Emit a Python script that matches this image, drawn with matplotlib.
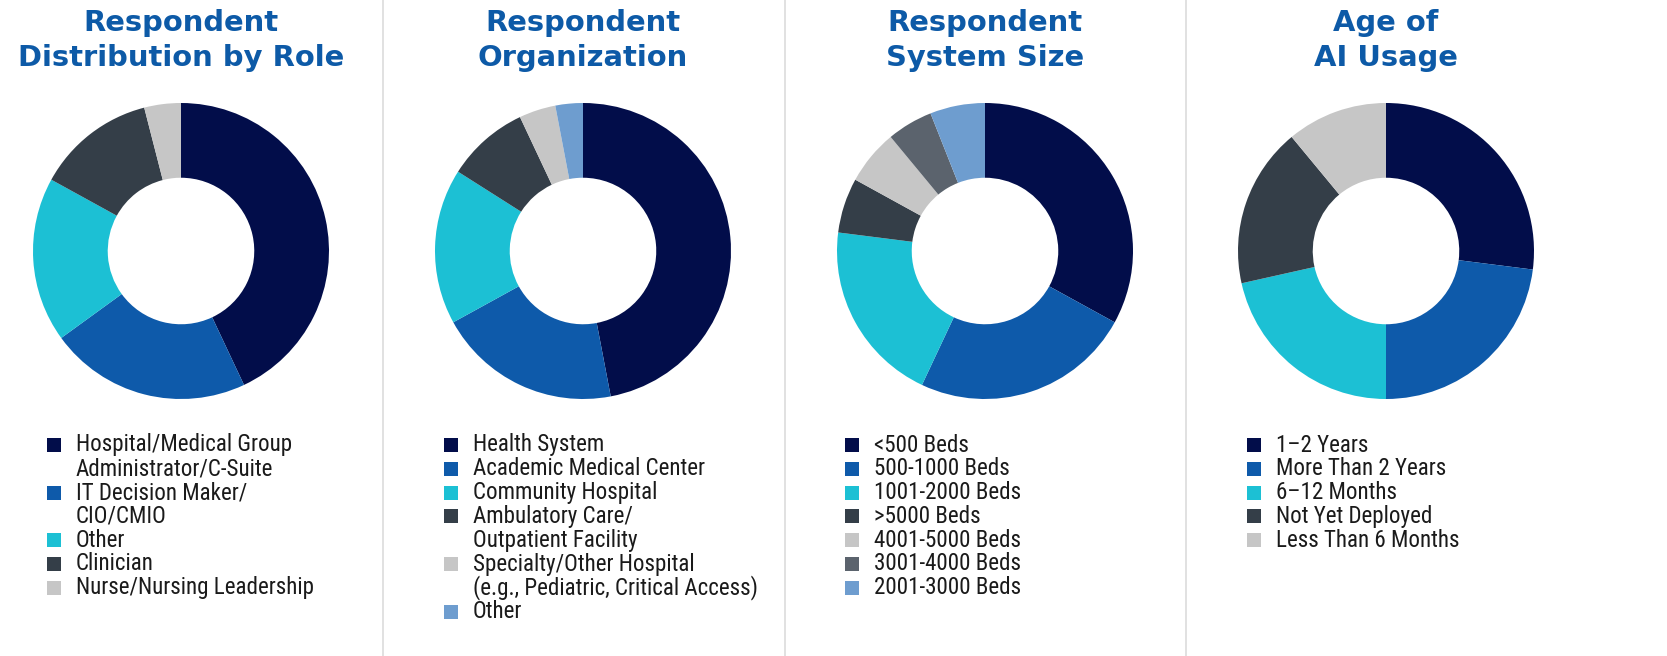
import matplotlib
matplotlib.use('Agg')
from matplotlib import pyplot as plt
from matplotlib import font_manager
from matplotlib.font_manager import FontProperties
from matplotlib.patches import Rectangle
from matplotlib.lines import Line2D

NAVY = '#020d4a'
BLUE = '#0e5aaa'
TEAL = '#1cc0d4'
DARK = '#343e48'
LGRAY = '#c6c6c6'
MGRAY = '#5b636d'
LBLUE = '#6e9dcf'

# panel 1
role_labels = ['Hospital/Medical Group\nAdministrator/C-Suite', 'IT Decision Maker/\nCIO/CMIO',
               'Other', 'Clinician', 'Nurse/Nursing Leadership']
role_values = [43, 22, 18, 13, 4]
role_colors = [NAVY, BLUE, TEAL, DARK, LGRAY]

# panel 2
org_labels = ['Health System', 'Academic Medical Center', 'Community Hospital',
              'Ambulatory Care/\nOutpatient Facility',
              'Specialty/Other Hospital\n(e.g., Pediatric, Critical Access)', 'Other']
org_values = [47, 20, 17, 9, 4, 3]
org_colors = [NAVY, BLUE, TEAL, DARK, LGRAY, LBLUE]

# panel 3
size_labels = ['<500 Beds', '500-1000 Beds', '1001-2000 Beds', '>5000 Beds',
               '4001-5000 Beds', '3001-4000 Beds', '2001-3000 Beds']
size_values = [33, 24, 20, 6, 6, 5, 6]
size_colors = [NAVY, BLUE, TEAL, DARK, LGRAY, MGRAY, LBLUE]

# panel 4
age_labels = ['1\u20132 Years', 'More Than 2 Years', '6\u201312 Months',
              'Not Yet Deployed', 'Less Than 6 Months']
age_values = [27, 23, 21.5, 17.5, 11]
age_colors = [NAVY, BLUE, TEAL, DARK, LGRAY]

titles = [['Respondent', 'Distribution by Role'], ['Respondent', 'Organization'],
          ['Respondent', 'System Size'], ['Age of', 'AI Usage']]

panels = [(role_labels, role_values, role_colors),
          (org_labels, org_values, org_colors),
          (size_labels, size_values, size_colors),
          (age_labels, age_values, age_colors)]


def pick_font(name, weights, fallback_name, fallback_weight):
    # static files only, variable fonts come out at their default weight
    for w in weights:
        for f in font_manager.fontManager.ttflist:
            if f.name == name and f.weight == w and f.style == 'normal' and '[' not in f.fname:
                return FontProperties(fname=f.fname)
    return FontProperties(family=fallback_name, weight=fallback_weight)


title_fp = pick_font('Montserrat', [700, 'bold'], 'DejaVu Sans', 'bold')
leg_fp = pick_font('Open Sans Condensed', [300, 'light'], 'Roboto Condensed', 'normal')
if leg_fp.get_family() == ['Roboto Condensed']:
    for f in font_manager.fontManager.ttflist:
        if f.fname.endswith('RobotoCondensed-Regular.ttf'):
            leg_fp = FontProperties(fname=f.fname)
            break

W, H = 1667, 656
fig = plt.figure(figsize=(W / 100, H / 100), dpi=100)
fig.patch.set_facecolor('white')
renderer = fig.canvas.get_renderer()


def fit_size(fp, text, target_px, base=20):
    t = fig.text(0, 0, text, fontproperties=fp, fontsize=base)
    w = t.get_window_extent(renderer).width
    t.remove()
    return base * target_px / w


title_size = fit_size(title_fp, 'Distribution by Role', 327)
leg_size = fit_size(leg_fp, 'Hospital/Medical Group', 216)

centers = [181, 583, 985, 1386]
cy = 251
R = 148
legend_x = [47, 444, 845, 1247]

# dividers
for xd in [383, 785, 1186]:
    fig.add_artist(Line2D([xd / W, xd / W], [0, 1], color='#dcdcdc', lw=1.2))

for i, (labels, values, colors) in enumerate(panels):
    cx = centers[i]
    ax = fig.add_axes([(cx - R) / W, (H - cy - R) / H, 2 * R / W, 2 * R / H])
    ax.pie(values, colors=colors, startangle=90, counterclock=False, radius=1,
           wedgeprops=dict(width=0.505, edgecolor='none'))
    ax.set_xlim(-1, 1)
    ax.set_ylim(-1, 1)
    ax.set_aspect('equal')
    ax.axis('off')

    for k, t in enumerate(titles[i]):
        fig.text(cx / W, (H - 23 - k * 35) / H, t, ha='center', va='center',
                 fontproperties=title_fp, fontsize=title_size, color='#0d5aa7')

    # legend
    pitch = 23.8
    row = 0
    for lab, col in zip(labels, colors):
        y = 445 + row * pitch
        fig.add_artist(Rectangle((legend_x[i] / W, (H - y - 7) / H), 14 / W, 14 / H,
                                 facecolor=col, edgecolor='none', transform=fig.transFigure))
        for k, line in enumerate(lab.split('\n')):
            yy = 445 + (row + k) * pitch
            fig.text((legend_x[i] + 29) / W, (H - yy) / H, line, ha='left', va='center',
                     fontproperties=leg_fp, fontsize=leg_size, color='#1a1a1a')
        row += len(lab.split('\n'))

fig.savefig('out.png', dpi=100)
